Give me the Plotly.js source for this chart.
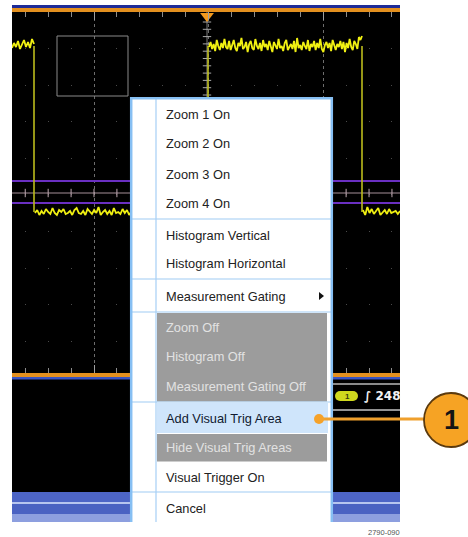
<!DOCTYPE html>
<html>
<head>
<meta charset="utf-8">
<script src="https://cdn.plot.ly/plotly-3.0.1.min.js"></script>
<style>html,body{margin:0;padding:0;background:#fff;}#chart{width:468px;height:537px;}</style>
</head>
<body>
<div id="chart"></div>
<script>
// ---------------- DATA ----------------
// waveform (screen units): edge times and logic levels
const edgeTimes = [34, 208, 362];
const highLevel = 46;
const lowLevel = 212;
// noise (offsets from level)
const noiseHigh1 = [2, -3, 1, -5, 3, -2, -6, 1, -4, 2, -7, -2];
const noiseLow1 = [1, -2, 3, -1, 2, -3, 0, 2, -4, 1, 3, -2, 0, -3, 2, 1, -1, 3, -2, -4, 1, 2, -1, 3, -3, 0, 2, -2, 1, -5, 3, 0, -2, 2, -1, 3, -4, 1, 0, 2, -3, 1, -2, 3, -1, -4, 2, 0, 1, -3, 2, -2, 3, -1, 0, -4, 2, 1, -2, 3, -3, 1, 0, -2, 2, -1, 3, -3, 1, -2, 0, 2, -1, 3, -2, 1, -3, 2, 0, -1];
const noiseHigh2 = [1, -4, 3, -2, 5, -6, 0, 4, -3, 2, -7, 1, 3, -5, 4, -1, -6, 2, 5, -3, 0, -8, 3, 1, -4, 6, -2, -5, 2, 4, -7, 0, 3, -3, 5, -6, 1, -2, 4, -5, 2, 6, -4, -1, 3, -7, 2, 0, 5, -3, -6, 4, 1, -2, 3, -5, 6, -8, 2, -1, 4, -4, 0, 3, -6, 5, -2, 1, -5, 4, -3, 2, -7, 3, 6, -1, -4, 2, -3, 5, -6, 0, 4, -2, 1, -5, 3, -4, 6, -3, 2, -7, 1, 4, -5, -2, 3, -9, -6, -10];
const noiseLow2 = [-2, 3, -5, 1, -3, 2, -1, -4, 3, 0, -2, 2, -3, 1, 0, -1, 2, -1];
const cursorLevels = [181, 203];
const centerLevel = 193;
const triggerTime = 207;
// menu
const menuItems = ["Zoom 1 On", "Zoom 2 On", "Zoom 3 On", "Zoom 4 On",
  "Histogram Vertical", "Histogram Horizontal", "Measurement Gating",
  "Zoom Off", "Histogram Off", "Measurement Gating Off",
  "Add Visual Trig Area", "Hide Visual Trig Areas", "Visual Trigger On", "Cancel"];
const menuState = ["n", "n", "n", "n", "n", "n", "n", "d", "d", "d", "h", "d", "n", "n"];
const calloutLabel = "1";
const figureId = "2790-090";
const statusText = "\u222B 248";

// ---------------- LAYOUT HELPERS ----------------
const W = 468, H = 537;
const px = x => x / W;
const py = y => 1 - y / H;
const scr = {x0: 12, x1: 400, y0: 12, y1: 373};

function seg(x0, x1, level, noise) {
  const xs = [], ys = [];
  const n = noise.length;
  for (let i = 0; i < n; i++) {
    xs.push(x0 + (x1 - x0) * i / (n - 1));
    ys.push(level + noise[i]);
  }
  return {xs, ys};
}
const s1 = seg(scr.x0, edgeTimes[0], highLevel, noiseHigh1);
const s2 = seg(edgeTimes[0] + 1, edgeTimes[1], lowLevel, noiseLow1);
const s3 = seg(edgeTimes[1] + 1, edgeTimes[2], highLevel, noiseHigh2);
const s4 = seg(edgeTimes[2] + 1, scr.x1, lowLevel, noiseLow2);
const noisyX = [...s1.xs, null, ...s2.xs, null, ...s3.xs, null, ...s4.xs];
const noisyY = [...s1.ys, null, ...s2.ys, null, ...s3.ys, null, ...s4.ys];
const edgeX = [], edgeY = [];
edgeTimes.forEach((t, i) => {
  const fromHigh = i % 2 === 0;
  edgeX.push(t, t, null);
  edgeY.push(fromHigh ? highLevel : lowLevel, fromHigh ? lowLevel : highLevel, null);
});

const minorStep = 22.92;
const hTicks = [];
for (let x = 94 - 3 * minorStep; x < scr.x1; x += minorStep) hTicks.push(x);
const vTicks = [];
for (let y = 22; y < scr.y1; y += 7.3) vTicks.push(y);

const traces = [
  {x: [scr.x0, scr.x1, null, scr.x0, scr.x1], y: [cursorLevels[0], cursorLevels[0], null, cursorLevels[1], cursorLevels[1]],
   mode: 'lines', line: {color: '#6a2fc2', width: 2}, hoverinfo: 'skip'},
  {x: [scr.x0, scr.x1], y: [centerLevel, centerLevel], mode: 'lines', line: {color: '#a58f98', width: 1}, hoverinfo: 'skip'},
  {x: hTicks, y: hTicks.map(() => centerLevel), mode: 'markers',
   marker: {symbol: 'line-ns-open', size: 6, color: '#c0aab2', line: {color: '#c0aab2', width: 1}}, hoverinfo: 'skip'},
  {x: [triggerTime, triggerTime], y: [scr.y0, scr.y1], mode: 'lines', line: {color: '#7c7c7c', width: 1}, hoverinfo: 'skip'},
  {x: vTicks.map(() => triggerTime), y: vTicks, mode: 'markers',
   marker: {symbol: 'line-ew-open', size: 6, color: '#a8a8a8', line: {color: '#a8a8a8', width: 1}}, hoverinfo: 'skip'},
  {x: edgeX, y: edgeY, mode: 'lines', line: {color: '#bcbc1c', width: 1.6}, hoverinfo: 'skip'},
  {x: noisyX, y: noisyY, mode: 'lines', line: {color: '#f0f012', width: 1.8}, hoverinfo: 'skip'},
  {x: [triggerTime], y: [16], mode: 'markers', cliponaxis: false,
   marker: {symbol: 'triangle-down', size: 12, color: '#f39a1e', line: {width: 0}}, hoverinfo: 'skip'}
];

// ---------------- SHAPES ----------------
const shapes = [];
function prect(x0, y0, x1, y1, fill, line) {
  shapes.push({type: 'rect', xref: 'paper', yref: 'paper', x0: px(x0), x1: px(x1), y0: py(y1), y1: py(y0),
    fillcolor: fill || 'rgba(0,0,0,0)', line: line || {width: 0}, layer: 'above'});
}
function pline(x0, y0, x1, y1, color, width) {
  shapes.push({type: 'line', xref: 'paper', yref: 'paper', x0: px(x0), x1: px(x1), y0: py(y0), y1: py(y1),
    line: {color: color, width: width}, layer: 'above'});
}
function pcircle(cx, cy, r, fill, line) {
  shapes.push({type: 'circle', xref: 'paper', yref: 'paper', x0: px(cx - r), x1: px(cx + r), y0: py(cy + r), y1: py(cy - r),
    fillcolor: fill, line: line || {width: 0}, layer: 'above'});
}

// scope frame
prect(12, 5, 400, 8, '#1d2b98');
prect(12, 8, 400, 12, '#e3901f');
prect(12, 373, 400, 522, '#000000');
prect(12, 373, 400, 377, '#e3901f');
prect(12, 377, 400, 379.5, '#3a55c4');
pline(250, 384, 400, 384, '#8a8a8a', 2);
pline(250, 410, 400, 410, '#c4c4c4', 1.5);
// channel pill
prect(340, 391, 353, 401, '#cfd81e');
pcircle(340, 396, 5, '#cfd81e');
pcircle(353, 396, 5, '#cfd81e');
// bottom bands
prect(12, 492, 400, 502, '#4d65c6');
prect(12, 502, 400, 504, '#b7c5ef');
prect(12, 504, 400, 514, '#4a62c2');
prect(12, 514, 400, 522, '#8d9fdf');
// zoom box (data coords)
shapes.push({type: 'rect', xref: 'x', yref: 'y', x0: 57, x1: 128, y0: 36, y1: 96,
  line: {color: '#8a8a8a', width: 1}, fillcolor: 'rgba(0,0,0,0)', layer: 'above'});

// menu
prect(130, 97, 333, 522, '#ffffff');
prect(157, 313, 327, 401.5, '#9c9c9c');
prect(157, 403, 328, 433, '#cfe5fb');
prect(157, 434, 327, 461.5, '#9c9c9c');
[219, 279, 312, 402, 492].forEach(y => pline(131, y, 331, y, '#9fcbf4', 1.2));
pline(156, 99, 156, 522, '#a6cff5', 1.2);
pline(131.2, 97, 131.2, 522, '#86bff3', 2.5);
pline(331.8, 97, 331.8, 522, '#86bff3', 2.5);
pline(130, 98.2, 333, 98.2, '#86bff3', 2.5);
// submenu arrow
shapes.push({type: 'path', xref: 'paper', yref: 'paper',
  path: `M ${px(319)} ${py(292)} L ${px(324)} ${py(296)} L ${px(319)} ${py(300)} Z`,
  fillcolor: '#111', line: {width: 0}, layer: 'above'});

// callout
pline(319, 419, 426, 419, '#f0a02c', 3);
pcircle(319, 419, 5, '#f5a22a');
pcircle(451, 420, 27, '#f6a324', {color: '#5b3a0e', width: 1.8});

// ---------------- ANNOTATIONS ----------------
const rowCenters = [114, 144, 174, 203, 235, 264, 296, 327, 356, 386, 418, 447, 477, 508];
const annotations = menuItems.map((t, i) => ({
  text: t, xref: 'paper', yref: 'paper', x: px(164), y: py(rowCenters[i]),
  xanchor: 'left', yanchor: 'middle', showarrow: false,
  font: {family: 'Liberation Sans, Arial, sans-serif', size: 12.8,
    color: menuState[i] === 'd' ? '#e2e2e2' : (menuState[i] === 'h' ? '#101a30' : '#222222')}
}));
annotations.push({text: '<b>' + calloutLabel + '</b>', xref: 'paper', yref: 'paper', x: px(451), y: py(420),
  xanchor: 'center', yanchor: 'middle', showarrow: false,
  font: {family: 'Liberation Sans, Arial, sans-serif', size: 27, color: '#141414'}});
annotations.push({text: '<b>1</b>', xref: 'paper', yref: 'paper', x: px(347), y: py(396),
  xanchor: 'center', yanchor: 'middle', showarrow: false,
  font: {family: 'Liberation Sans, Arial, sans-serif', size: 8, color: '#3a3a10'}});
annotations.push({text: '<b>' + statusText + '</b>', xref: 'paper', yref: 'paper', x: px(362), y: py(396),
  xanchor: 'left', yanchor: 'middle', showarrow: false,
  font: {family: 'DejaVu Sans, sans-serif', size: 12, color: '#f2f2f2'}});
annotations.push({text: figureId, xref: 'paper', yref: 'paper', x: px(384), y: py(532),
  xanchor: 'center', yanchor: 'middle', showarrow: false,
  font: {family: 'Liberation Sans Narrow, Liberation Sans, sans-serif', size: 7.5, color: '#555'}});

const layout = {
  width: W, height: H, margin: {l: 0, r: 0, t: 0, b: 0, pad: 0},
  paper_bgcolor: '#ffffff', plot_bgcolor: '#000000', showlegend: false,
  xaxis: {domain: [px(scr.x0), px(scr.x1)], range: [scr.x0, scr.x1], fixedrange: true,
    showticklabels: false, side: 'top', ticks: 'inside', ticklen: 8, tickcolor: '#a0a0a0', tickwidth: 1,
    tick0: 94, dtick: 114.6, mirror: 'ticks', showline: false, zeroline: false,
    showgrid: true, gridcolor: '#6e6e6e', griddash: 'dot', gridwidth: 1,
    minor: {dtick: minorStep, tick0: 94, ticks: 'inside', ticklen: 5, tickcolor: '#8c8c8c',
      showgrid: true, gridcolor: '#4a4a4a', griddash: '1px,35.5px', gridwidth: 1}},
  yaxis: {domain: [py(scr.y1), py(scr.y0)], range: [scr.y1, scr.y0], fixedrange: true,
    showticklabels: false, ticks: '', showgrid: false, zeroline: false, showline: false},
  shapes: shapes,
  annotations: annotations
};

Plotly.newPlot('chart', traces, layout, {displayModeBar: false, staticPlot: true});
</script>
</body>
</html>
